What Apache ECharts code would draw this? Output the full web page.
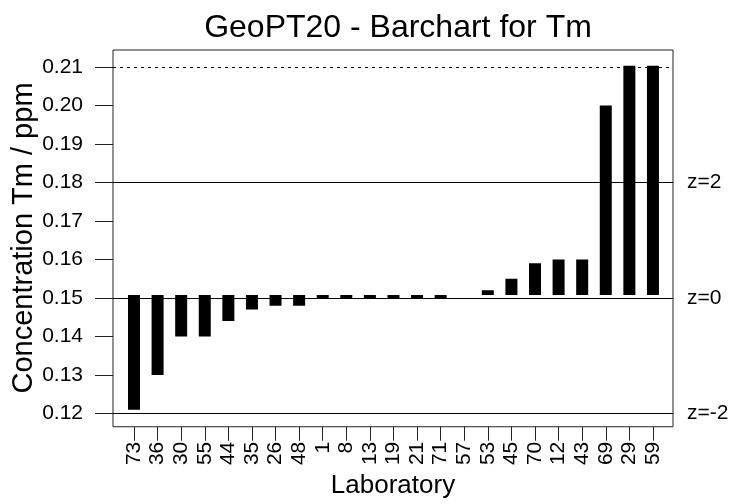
<!DOCTYPE html>
<html>
<head>
<meta charset="utf-8">
<title>GeoPT20 - Barchart for Tm</title>
<script src="https://cdn.jsdelivr.net/npm/echarts@6/dist/echarts.min.js"></script>
<style>
  html, body { margin: 0; padding: 0; background: #fff; }
  #chart { width: 742px; height: 504px; }
</style>
</head>
<body>
<div id="chart"></div>
<script>
// Laboratory codes, sorted by reported concentration
const labs = ['73','36','30','55','44','35','26','48','1','8','13','19','21','71','57','53','45','70','12','43','69','29','59'];
// Reported Tm concentrations (ppm); 29 and 59 lie above the plotted range and are capped
const conc = [0.121,0.130,0.140,0.140,0.144,0.147,0.148,0.148,0.150,0.150,0.150,0.150,0.150,0.150,0.1508,0.152,0.155,0.159,0.160,0.160,0.200,0.2103,0.2103];
// Assigned value and z-score limits
const assigned = 0.1508;
const zPlus2 = 0.1828;
const zMinus2 = 0.1188;
const capValue = 0.2103;
// Y-axis tick values
const yTicks = [0.12,0.13,0.14,0.15,0.16,0.17,0.18,0.19,0.20,0.21];

const FONT = 'Liberation Sans, Arial, Helvetica, sans-serif';
const positions = labs.map((_, i) => i + 1);
const barData = conc.map((v, i) => [i + 1, Math.min(v, capValue)]);

const chart = echarts.init(document.getElementById('chart'), null, { renderer: 'canvas' });

chart.setOption({
  animation: false,
  backgroundColor: '#ffffff',
  title: {
    text: 'GeoPT20 - Barchart for Tm',
    left: 393, top: 7, textAlign: 'center',
    textStyle: { fontFamily: FONT, fontSize: 32, fontWeight: 'normal', color: '#000' }
  },
  graphic: [{
    // Rotated y-axis title
    type: 'text',
    x: 24, y: 238,
    rotation: Math.PI / 2,
    style: {
      text: 'Concentration Tm / ppm',
      font: '29px ' + FONT,
      fill: '#000',
      align: 'center',
      verticalAlign: 'middle'
    }
  }],
  grid: {
    left: 113, right: 69, top: 50, bottom: 67.5,
    show: true, borderColor: '#222', borderWidth: 1, backgroundColor: 'transparent'
  },
  xAxis: {
    type: 'value', min: 0.11, max: 23.85,
    name: 'Laboratory', nameLocation: 'middle', nameGap: 44,
    nameTextStyle: { fontFamily: FONT, fontSize: 26, color: '#000' },
    axisLine: { show: false },
    splitLine: { show: false },
    axisTick: { show: true, length: 14, customValues: positions, lineStyle: { color: '#222', width: 1 } },
    axisLabel: {
      customValues: positions, rotate: 90, margin: 15,
      fontFamily: FONT, fontSize: 21, color: '#000',
      formatter: v => labs[Math.round(v) - 1] || ''
    }
  },
  yAxis: {
    type: 'value', min: 0.11658, max: 0.21438,
    axisLine: { show: false },
    splitLine: { show: false },
    axisTick: { show: true, length: 18, customValues: yTicks, lineStyle: { color: '#222', width: 1 } },
    axisLabel: {
      customValues: yTicks, margin: 30,
      fontFamily: FONT, fontSize: 21, color: '#000',
      formatter: v => v.toFixed(2)
    }
  },
  series: [
    {
      // Bars drawn from the assigned value to each reported value
      type: 'custom',
      clip: true,
      data: barData,
      renderItem: function (params, api) {
        const x = api.value(0);
        const v = api.value(1);
        const p0 = api.coord([x, assigned]);
        const p1 = api.coord([x, v]);
        const w = 12;
        const top = Math.min(p0[1], p1[1]);
        const h = Math.abs(p1[1] - p0[1]);
        return {
          type: 'rect',
          shape: { x: p0[0] - w / 2, y: top, width: w, height: h },
          style: { fill: '#000' }
        };
      },
      z: 2
    },
    {
      // Reference lines: z-score limits and the upper plotting cap
      type: 'line',
      data: [],
      silent: true,
      markLine: {
        silent: true,
        symbol: 'none',
        animation: false,
        label: {
          position: 'end', distance: 14,
          fontFamily: FONT, fontSize: 21, color: '#000'
        },
        lineStyle: { color: '#000', width: 1, type: 'solid' },
        data: [
          { yAxis: zPlus2, label: { formatter: 'z=2' } },
          { yAxis: assigned, label: { formatter: 'z=0' } },
          { yAxis: zMinus2, label: { formatter: 'z=-2' } },
          { yAxis: capValue, label: { show: false }, lineStyle: { type: [3, 4], color: '#000', width: 1 } }
        ]
      },
      z: 3
    }
  ]
});
</script>
</body>
</html>
